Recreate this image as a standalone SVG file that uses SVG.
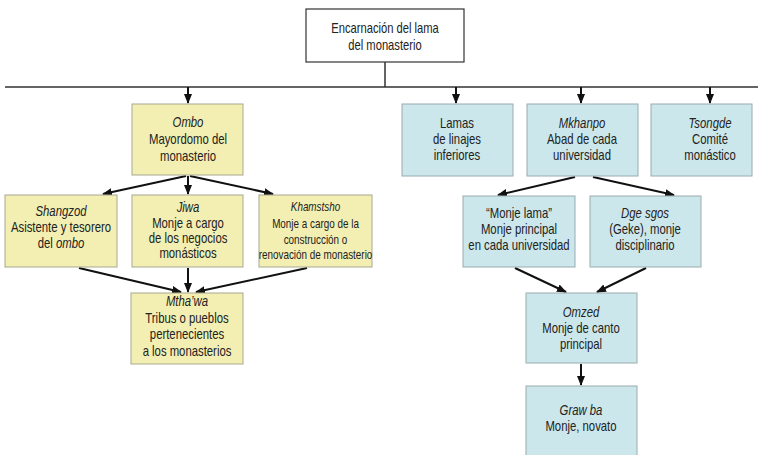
<svg xmlns="http://www.w3.org/2000/svg" width="758" height="455" viewBox="0 0 758 455">
<style>
.y{fill:#f3efb2;stroke:#a8a890;stroke-width:1}
.b{fill:#cce7eb;stroke:#98aab0;stroke-width:1}
.w{fill:#fff;stroke:#333;stroke-width:1.2}
text{font-family:"Liberation Sans",Arial,sans-serif;font-size:14px;fill:#222;text-anchor:middle}
.i{font-style:italic}
.s{font-size:12.2px}
.c line{stroke:#111;stroke-width:2;marker-end:url(#a)}
</style>
<defs>
<marker id="a" markerUnits="userSpaceOnUse" markerWidth="10" markerHeight="10" refX="9" refY="5" orient="auto">
<path d="M0,1 L10,5 L0,9 Z" fill="#111"/>
</marker>
</defs>
<rect width="758" height="455" fill="#fff"/>
<g id="connectors" class="c">
<path d="M385,62 V87 M5,87 H758" stroke="#333" stroke-width="1.5" fill="none"/>
<line x1="188" y1="87" x2="188" y2="103"/>
<line x1="456" y1="87" x2="456" y2="103"/>
<line x1="581" y1="87" x2="581" y2="103"/>
<line x1="710" y1="87" x2="710" y2="103"/>
<line x1="186" y1="176" x2="103" y2="194"/>
<line x1="188" y1="176" x2="188" y2="194"/>
<line x1="190" y1="176" x2="273" y2="194"/>
<line x1="79" y1="268" x2="181" y2="292"/>
<line x1="188" y1="268" x2="188" y2="292"/>
<line x1="307" y1="268" x2="196" y2="292"/>
<line x1="575" y1="177" x2="498" y2="195"/>
<line x1="593" y1="177" x2="674" y2="195"/>
<line x1="515" y1="268" x2="566" y2="292"/>
<line x1="646" y1="268" x2="597" y2="292"/>
<line x1="581" y1="364" x2="581" y2="385"/>
</g>
<g id="encarnacion">
<rect class="w" x="306" y="9" width="158" height="53"/>
<g transform="translate(385 0) scale(.8 1)">
<text x="0" y="33">Encarnación del lama</text>
<text x="0" y="50">del monasterio</text>
</g>
</g>
<g id="ombo">
<rect class="y" x="132" y="104" width="111" height="71"/>
<g transform="translate(188 0) scale(.81 1)">
<text x="0" y="127" class="i">Ombo</text>
<text x="0" y="144">Mayordomo del</text>
<text x="0" y="161">monasterio</text>
</g>
</g>
<g id="shangzod">
<rect class="y" x="5" y="195" width="112" height="72"/>
<g transform="translate(61 0) scale(.81 1)">
<text x="0" y="216" class="i">Shangzod</text>
<text x="0" y="232">Asistente y tesorero</text>
<text x="0" y="248">del <tspan class="i">ombo</tspan></text>
</g>
</g>
<g id="jiwa">
<rect class="y" x="132" y="195" width="111" height="72"/>
<g transform="translate(188 0) scale(.81 1)">
<text x="0" y="212" class="i">Jiwa</text>
<text x="0" y="228">Monje a cargo</text>
<text x="0" y="243">de los negocios</text>
<text x="0" y="258">monásticos</text>
</g>
</g>
<g id="khamstsho">
<rect class="y" x="259" y="195" width="113" height="72"/>
<g transform="translate(315.5 0) scale(.81 1)">
<text x="0" y="211" class="i s">Khamstsho</text>
<text x="0" y="228" class="s">Monje a cargo de la</text>
<text x="0" y="244" class="s">construcción o</text>
<text x="0" y="259" class="s">renovación de monasterio</text>
</g>
</g>
<g id="mthawa">
<rect class="y" x="131" y="293" width="112" height="71"/>
<g transform="translate(187 0) scale(.81 1)">
<text x="0" y="306" class="i">Mtha’wa</text>
<text x="0" y="323">Tribus o pueblos</text>
<text x="0" y="339">pertenecientes</text>
<text x="0" y="356">a los monasterios</text>
</g>
</g>
<g id="lamas">
<rect class="b" x="402" y="104" width="111" height="72"/>
<g transform="translate(457 0) scale(.81 1)">
<text x="0" y="128">Lamas</text>
<text x="0" y="144">de linajes</text>
<text x="0" y="160">inferiores</text>
</g>
</g>
<g id="mkhanpo">
<rect class="b" x="527" y="104" width="111" height="72"/>
<g transform="translate(582 0) scale(.81 1)">
<text x="0" y="128" class="i">Mkhanpo</text>
<text x="0" y="144">Abad de cada</text>
<text x="0" y="160">universidad</text>
</g>
</g>
<g id="tsongde">
<rect class="b" x="651" y="104" width="101" height="72"/>
<g transform="translate(710 0) scale(.81 1)">
<text x="0" y="128" class="i">Tsongde</text>
<text x="0" y="144">Comité</text>
<text x="0" y="160">monástico</text>
</g>
</g>
<g id="monjelama">
<rect class="b" x="463" y="196" width="112" height="71"/>
<g transform="translate(519 0) scale(.81 1)">
<text x="0" y="218">“Monje lama”</text>
<text x="0" y="234">Monje principal</text>
<text x="0" y="250">en cada universidad</text>
</g>
</g>
<g id="dgesgos">
<rect class="b" x="590" y="196" width="111" height="71"/>
<g transform="translate(645 0) scale(.81 1)">
<text x="0" y="218" class="i">Dge sgos</text>
<text x="0" y="234">(Geke), monje</text>
<text x="0" y="250">disciplinario</text>
</g>
</g>
<g id="omzed">
<rect class="b" x="526" y="293" width="111" height="70"/>
<g transform="translate(581 0) scale(.81 1)">
<text x="0" y="317" class="i">Omzed</text>
<text x="0" y="333">Monje de canto</text>
<text x="0" y="349">principal</text>
</g>
</g>
<g id="grawba">
<rect class="b" x="526" y="386" width="111" height="75"/>
<g transform="translate(581 0) scale(.81 1)">
<text x="0" y="415" class="i">Graw ba</text>
<text x="0" y="431">Monje, novato</text>
</g>
</g>
</svg>
